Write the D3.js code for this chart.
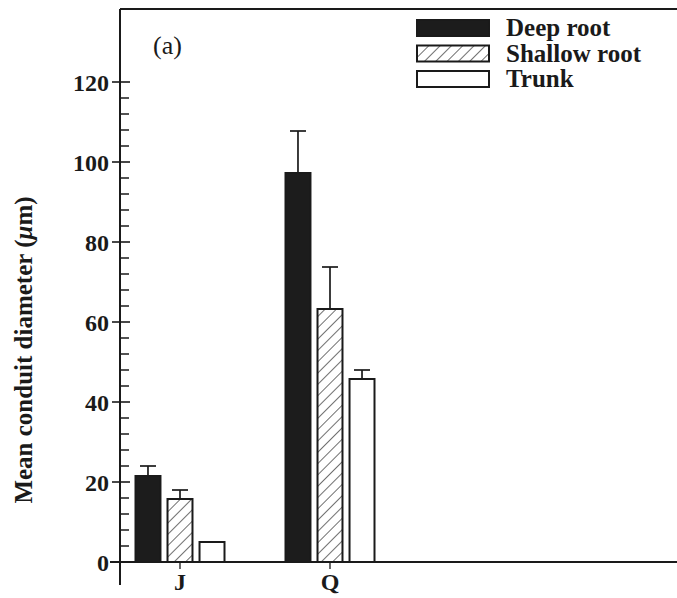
<!DOCTYPE html>
<html>
<head>
<meta charset="utf-8" />
<script src="https://d3js.org/d3.v7.min.js"></script>
<style>
  body { margin: 0; background: #fff; }
  text { font-family: "Liberation Serif", "Times New Roman", serif; }
</style>
</head>
<body>
<svg id="chart"></svg>
<script>
// data
var species = ["J", "Q"];
var series = ["Deep root", "Shallow root", "Trunk"];
var means = [
  [21.5, 15.75, 5],   // J
  [97.25, 63.25, 45.75] // Q
];
var errTop = [
  [24, 18, null],
  [107.75, 73.75, 48]
];
var yTicks = [0, 20, 40, 60, 80, 100, 120];

var width = 677, height = 598;
var margin = {top: 9, left: 120, bottom: 36};

var svg = d3.select("#chart").attr("width", width).attr("height", height);

// hatch pattern for shallow root
var defs = svg.append("defs");
var pat = defs.append("pattern")
  .attr("id", "hatch")
  .attr("patternUnits", "userSpaceOnUse")
  .attr("width", 8).attr("height", 8)
  .attr("patternTransform", "rotate(45)");
pat.append("rect").attr("width", 8).attr("height", 8).attr("fill", "#fff");
pat.append("line")
  .attr("x1", 0).attr("y1", 0).attr("x2", 0).attr("y2", 8)
  .attr("stroke", "#222").attr("stroke-width", 1.3);

var fills = {"Deep root": "#1c1c1c", "Shallow root": "url(#hatch)", "Trunk": "#fff"};

var y = d3.scaleLinear().domain([0, 120]).range([562, 82]);

var x = d3.scalePoint().domain(species)
  .range([margin.left, margin.left + 270]).padding(0.4);

var xs = d3.scaleBand().domain(series).range([-44.5, 44.5]).paddingInner(0.22);

// frame: top line and baseline
svg.append("line")
  .attr("x1", margin.left).attr("x2", width)
  .attr("y1", margin.top).attr("y2", margin.top)
  .attr("stroke", "#1a1a1a").attr("stroke-width", 2);

svg.append("line")
  .attr("x1", margin.left - 10).attr("x2", width)
  .attr("y1", y(0)).attr("y2", y(0))
  .attr("stroke", "#1a1a1a").attr("stroke-width", 2);

// y axis line, goes below zero
svg.append("line")
  .attr("x1", margin.left).attr("x2", margin.left)
  .attr("y1", margin.top).attr("y2", 585)
  .attr("stroke", "#1a1a1a").attr("stroke-width", 2);

// minor ticks every 4
var minor = d3.range(0, 124, 4).filter(function(v) { return v % 20 !== 0; });
svg.append("g").selectAll("line").data(minor).enter().append("line")
  .attr("x1", margin.left).attr("x2", margin.left + 9)
  .attr("y1", function(d) { return y(d); }).attr("y2", function(d) { return y(d); })
  .attr("stroke", "#1a1a1a").attr("stroke-width", 1.5);

// major ticks
svg.append("g").selectAll("line").data(yTicks).enter().append("line")
  .attr("x1", margin.left - 8).attr("x2", margin.left + 10)
  .attr("y1", function(d) { return y(d); }).attr("y2", function(d) { return y(d); })
  .attr("stroke", "#1a1a1a").attr("stroke-width", 1.6);

svg.append("g").selectAll("text").data(yTicks).enter().append("text")
  .attr("x", margin.left - 11)
  .attr("y", function(d) { return y(d); })
  .attr("dy", "0.36em")
  .attr("text-anchor", "end")
  .attr("font-size", 24).attr("font-weight", "bold").attr("fill", "#1a1a1a")
  .text(function(d) { return d; });

// x ticks + labels
svg.append("g").selectAll("line").data(species).enter().append("line")
  .attr("x1", function(d) { return x(d); }).attr("x2", function(d) { return x(d); })
  .attr("y1", y(0)).attr("y2", y(0) + 7)
  .attr("stroke", "#1a1a1a").attr("stroke-width", 1.3);

svg.append("g").selectAll("text").data(species).enter().append("text")
  .attr("x", function(d) { return x(d); })
  .attr("y", 590)
  .attr("text-anchor", "middle")
  .attr("font-size", 24).attr("font-weight", "bold").attr("fill", "#1a1a1a")
  .text(function(d) { return d; });

// bars
var rows = [];
species.forEach(function(s, i) {
  series.forEach(function(k, j) {
    rows.push({sp: s, key: k, v: means[i][j], e: errTop[i][j]});
  });
});

// error bars first so the bar outline sits on top
var eb = svg.append("g").selectAll("g").data(rows.filter(function(d) { return d.e != null; }))
  .enter().append("g");
eb.append("line")
  .attr("x1", function(d) { return x(d.sp) + xs(d.key) + xs.bandwidth() / 2; })
  .attr("x2", function(d) { return x(d.sp) + xs(d.key) + xs.bandwidth() / 2; })
  .attr("y1", function(d) { return y(d.v); })
  .attr("y2", function(d) { return y(d.e); })
  .attr("stroke", "#1a1a1a").attr("stroke-width", 1.7);
eb.append("line")
  .attr("x1", function(d) { return x(d.sp) + xs(d.key) + xs.bandwidth() / 2 - 8; })
  .attr("x2", function(d) { return x(d.sp) + xs(d.key) + xs.bandwidth() / 2 + 8; })
  .attr("y1", function(d) { return y(d.e); })
  .attr("y2", function(d) { return y(d.e); })
  .attr("stroke", "#1a1a1a").attr("stroke-width", 1.7);

svg.append("g").selectAll("rect").data(rows).enter().append("rect")
  .attr("x", function(d) { return x(d.sp) + xs(d.key); })
  .attr("width", xs.bandwidth())
  .attr("y", function(d) { return y(d.v); })
  .attr("height", function(d) { return y(0) - y(d.v); })
  .attr("fill", function(d) { return fills[d.key]; })
  .attr("stroke", "#1a1a1a").attr("stroke-width", 2);

// y label
svg.append("text")
  .attr("transform", "translate(32,350) rotate(-90)")
  .attr("text-anchor", "middle")
  .attr("font-size", 25).attr("font-weight", "bold").attr("fill", "#1a1a1a")
  .html('Mean conduit diameter (<tspan font-style="italic">μ</tspan>m)');

// panel letter
svg.append("text")
  .attr("x", 153).attr("y", 54)
  .attr("font-size", 26).attr("fill", "#1a1a1a")
  .text("(a)");

// legend
var leg = svg.append("g").selectAll("g").data(series).enter().append("g")
  .attr("transform", function(d, i) { return "translate(417," + (20 + i * 25.5) + ")"; });
leg.append("rect")
  .attr("width", 72).attr("height", 16)
  .attr("fill", function(d) { return fills[d]; })
  .attr("stroke", "#1a1a1a").attr("stroke-width", 2);
leg.append("text")
  .attr("x", 89).attr("y", 16)
  .attr("font-size", 25).attr("font-weight", "bold").attr("fill", "#1a1a1a")
  .text(function(d) { return d; });
</script>
</body>
</html>
